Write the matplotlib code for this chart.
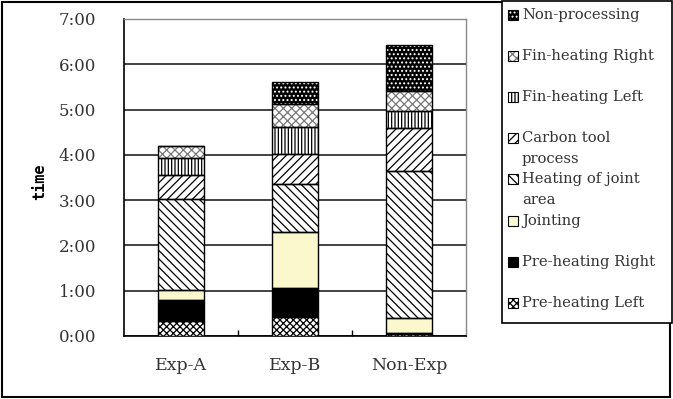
import matplotlib
matplotlib.use("Agg")
import matplotlib.pyplot as plt
from matplotlib.patches import Rectangle
from matplotlib.ticker import FuncFormatter, MultipleLocator
import numpy as np

groups = ["Exp-A", "Exp-B", "Non-Exp"]

# minutes spent per stage (bottom to top of each bar)
pre_left = [20, 25, 3]
pre_right = [28, 39, 1]
jointing = [13, 74, 20]
heating_joint = [120, 63, 194]
carbon_tool = [32, 40, 58]
fin_left = [23, 36, 22]
fin_right = [16, 31, 26]
non_processing = [0, 29, 61]

stage_names = ["Pre-heating Left", "Pre-heating Right", "Jointing",
               "Heating of joint\narea", "Carbon tool\nprocess",
               "Fin-heating Left", "Fin-heating Right", "Non-processing"]
stage_values = [pre_left, pre_right, jointing, heating_joint, carbon_tool,
                fin_left, fin_right, non_processing]

# (face colour, hatch colour, hatch)
styles = [("white", "black", "xxxxx"),
          ("black", "black", None),
          ("#faf8cc", "black", None),
          ("white", "black", "\\\\\\\\"),
          ("white", "black", "////"),
          ("white", "black", "|||||"),
          ("white", "#777777", "xxxx"),
          ("black", "white", "....")]

plt.rcParams['font.family'] = ['DejaVu Serif']
plt.rcParams['hatch.linewidth'] = 0.9

W, H = 673, 399
fig = plt.figure(figsize=(W / 100, H / 100), dpi=100)


def fx(px):
    return px / W


def fy(py):
    return 1 - py / H


ax = fig.add_axes([fx(124), fy(336), fx(466) - fx(124), fy(19) - fy(336)])

x = np.arange(len(groups))
bottom = np.zeros(len(groups))
for vals, (face, hcol, hatch) in zip(stage_values, styles):
    vals = np.array(vals, dtype=float)
    ax.bar(x, vals, 0.41, bottom=bottom, color=face, edgecolor=hcol,
           hatch=hatch, linewidth=0, zorder=3)
    ax.bar(x, vals, 0.41, bottom=bottom, fill=False, edgecolor="black",
           linewidth=1.0, zorder=4)
    bottom += vals

ax.set_xlim(-0.5, 2.5)
ax.set_ylim(0, 420)
ax.yaxis.set_major_locator(MultipleLocator(60))
ax.yaxis.set_major_formatter(FuncFormatter(lambda v, p: "%d:%02d" % (v // 60, v % 60)))
ax.yaxis.grid(True, color="#222222", linewidth=1.2, zorder=1)
ax.tick_params(axis="y", length=0, pad=20, labelsize=12)

ax.set_xticks([0.5, 1.5])
ax.set_xticklabels([])
ax.tick_params(axis="x", which="major", direction="in", length=4, width=1)
ax.set_xticks(x, minor=True)
ax.set_xticklabels(groups, minor=True)
ax.tick_params(axis="x", which="minor", length=0, pad=15, labelsize=12.5)
for lbl in ax.get_yticklabels() + ax.get_xticklabels(minor=True):
    lbl.set_color("#333333")

for side in ["left", "bottom"]:
    ax.spines[side].set_color("black")
    ax.spines[side].set_linewidth(1.2)
for side in ["top", "right"]:
    ax.spines[side].set_color("#888888")
    ax.spines[side].set_linewidth(1.0)

fig.text(fx(40), fy(182), "time", rotation=90, ha="center", va="center",
         fontsize=11, fontweight="bold", family="DejaVu Sans Mono")

# outer frame
fig.add_artist(Rectangle((fx(2), fy(397)), fx(670) - fx(2), fy(2) - fy(397),
                         transform=fig.transFigure, fill=False,
                         edgecolor="black", linewidth=1.5))

# legend box
fig.add_artist(Rectangle((fx(502), fy(323)), fx(672) - fx(502), fy(1) - fy(323),
                         transform=fig.transFigure, facecolor="white",
                         edgecolor="black", linewidth=1.2, zorder=5))
for i, (name, (face, hcol, hatch)) in enumerate(zip(stage_names[::-1], styles[::-1])):
    yc = 15 + 41.1 * i
    box = (fx(508), fy(yc + 5)), fx(518) - fx(508), fy(yc - 5) - fy(yc + 5)
    fig.add_artist(Rectangle(*box, transform=fig.transFigure, facecolor=face,
                             edgecolor=hcol, hatch=hatch, linewidth=0, zorder=6))
    fig.add_artist(Rectangle(*box, transform=fig.transFigure, fill=False,
                             edgecolor="black", linewidth=0.8, zorder=7))
    for j, line in enumerate(name.split("\n")):
        fig.text(fx(522), fy(yc + 21 * j), line, ha="left", va="center",
                 fontsize=10.6, color="#333333", zorder=7)

fig.savefig("out.png", dpi=100)
